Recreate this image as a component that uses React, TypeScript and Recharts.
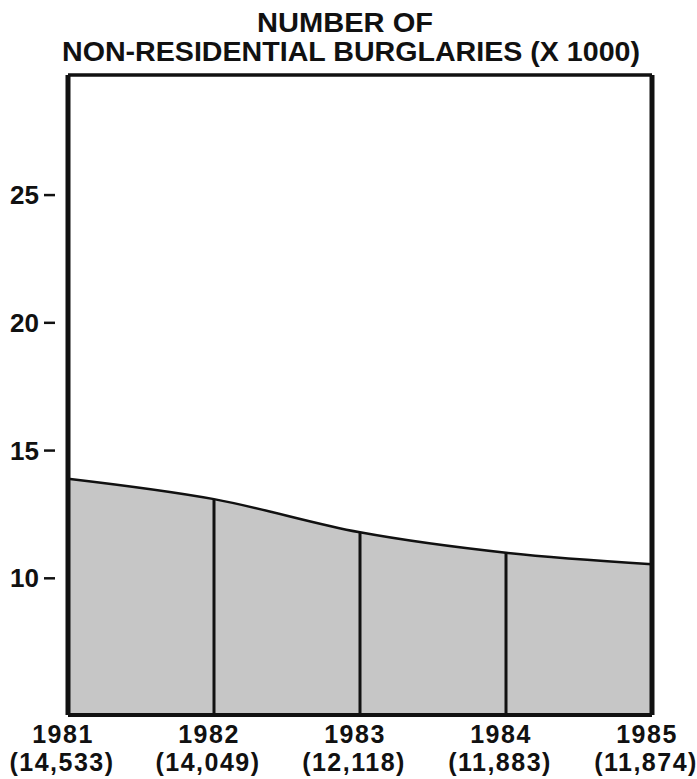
import React from 'react';
import { ComposedChart, Area, XAxis, YAxis, ReferenceLine } from 'recharts';

// values as drawn in the chart (thousands)
const years = [1981, 1982, 1983, 1984, 1985];
const burglaries = [13.9, 13.1, 11.8, 11.0, 10.55];
const countLabels = ['(14,533)', '(14,049)', '(12,118)', '(11,883)', '(11,874)'];
const yTicks = [10, 15, 20, 25];
const yDomain: [number, number] = [4.65, 29.7];

const data = years.map((year, i) => ({ year, value: burglaries[i] }));

const FONT = '"Liberation Sans", Arial, sans-serif';
const INK = '#111';

const YearTick = (props: any) => {
  const { x, y, payload } = props;
  const idx = years.indexOf(payload.value);
  return (
    <g>
      <text x={x - 5} y={y + 20} textAnchor="middle" fontFamily={FONT} fontWeight="bold" fontSize={25} letterSpacing={1.5} fill={INK}>
        {payload.value}
      </text>
      <text x={x - 6} y={y + 48} textAnchor="middle" fontFamily={FONT} fontWeight="bold" fontSize={25} letterSpacing={1.5} fill={INK}>
        {countLabels[idx]}
      </text>
    </g>
  );
};

const ValueTick = (props: any) => {
  const { y, payload } = props;
  return (
    <g>
      <text x={39} y={y} dy={9} textAnchor="end" fontFamily={FONT} fontWeight="bold" fontSize={26} fill={INK}>
        {payload.value}
      </text>
      <line x1={44} x2={55} y1={y} y2={y} stroke={INK} strokeWidth={2.5} />
    </g>
  );
};

const App: React.FC = () => {
  return (
    <div style={{ position: 'absolute', left: 0, top: 0, width: 697, height: 779, background: '#fff' }}>
      <svg width={697} height={70} style={{ position: 'absolute', left: 0, top: 0 }}>
        <text x={345} y={32} textAnchor="middle" fontFamily={FONT} fontWeight="bold" fontSize={27} fill={INK} textLength={176} lengthAdjust="spacingAndGlyphs">
          NUMBER OF
        </text>
        <text x={351} y={61} textAnchor="middle" fontFamily={FONT} fontWeight="bold" fontSize={27} fill={INK} textLength={578} lengthAdjust="spacingAndGlyphs">
          NON-RESIDENTIAL BURGLARIES (X 1000)
        </text>
      </svg>
      <ComposedChart
        width={697}
        height={779}
        data={data}
        margin={{ top: 75, right: 45, bottom: 0, left: 0 }}
      >
        <XAxis
          dataKey="year"
          type="number"
          domain={[1981, 1985]}
          ticks={years}
          height={64}
          axisLine={false}
          tickLine={false}
          tick={<YearTick />}
          interval={0}
        />
        <YAxis
          type="number"
          domain={yDomain}
          ticks={yTicks}
          allowDataOverflow
          width={68}
          axisLine={false}
          tickLine={false}
          tick={<ValueTick />}
        />
        <Area
          type="monotone"
          dataKey="value"
          stroke={INK}
          strokeWidth={2.5}
          fill="#c6c6c6"
          fillOpacity={1}
          baseValue={yDomain[0]}
          isAnimationActive={false}
        />
        {data.slice(1, -1).map((d) => (
          <ReferenceLine
            key={d.year}
            segment={[{ x: d.year, y: yDomain[0] }, { x: d.year, y: d.value }]}
            stroke={INK}
            strokeWidth={3}
          />
        ))}
        <ReferenceLine y={yDomain[1]} stroke={INK} strokeWidth={3.5} />
        <ReferenceLine y={yDomain[0]} stroke={INK} strokeWidth={4} />
        <ReferenceLine x={years[0]} stroke={INK} strokeWidth={5} />
        <ReferenceLine x={years[years.length - 1]} stroke={INK} strokeWidth={5} />
      </ComposedChart>
    </div>
  );
};

export default App;
